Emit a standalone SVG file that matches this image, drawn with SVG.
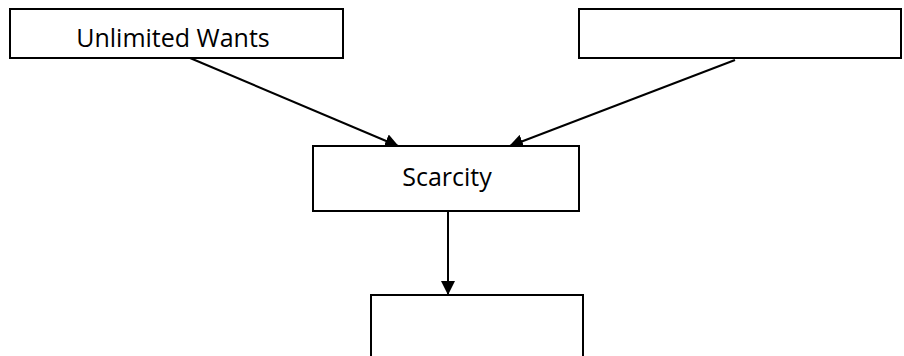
<svg xmlns="http://www.w3.org/2000/svg" width="904" height="356" viewBox="0 0 904 356">
<style>
.box{fill:#fff;stroke:#000;stroke-width:2}
.lbl{font-family:"Open Sans","Liberation Sans",sans-serif;font-size:25px;fill:#000;text-anchor:middle}
.con{stroke:#000;stroke-width:2;fill:none;marker-end:url(#ah)}
</style>
<defs>
<marker id="ah" markerWidth="14" markerHeight="14" refX="13" refY="7" orient="auto" markerUnits="userSpaceOnUse" viewBox="0 0 14 14">
<path d="M0,0 L14,7 L0,14 Z" fill="#000"/>
</marker>
</defs>
<rect width="904" height="356" fill="#fff"/>
<g id="connectors">
<line class="con" x1="190" y1="58" x2="398" y2="146"/>
<line class="con" x1="735" y1="60" x2="510" y2="146"/>
<line class="con" x1="448" y1="212" x2="448" y2="294"/>
</g>
<g id="unlimited-wants">
<rect class="box" x="10" y="9" width="333" height="49"/>
<text class="lbl" x="173" y="47">Unlimited Wants</text>
</g>
<g id="blank-top">
<rect class="box" x="579" y="9" width="322" height="49"/>
</g>
<g id="scarcity">
<rect class="box" x="313" y="146" width="266" height="65"/>
<text class="lbl" x="447" y="186">Scarcity</text>
</g>
<g id="blank-bottom">
<rect class="box" x="371" y="295" width="212" height="70"/>
</g>
</svg>
